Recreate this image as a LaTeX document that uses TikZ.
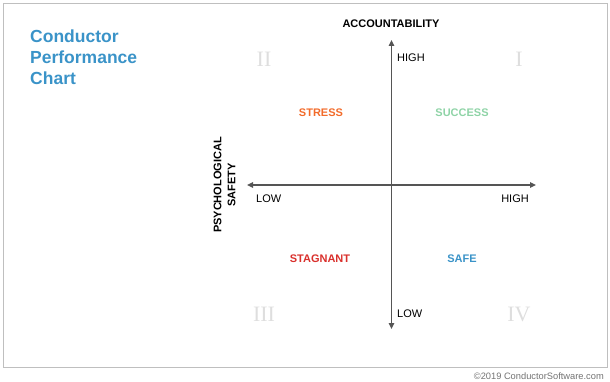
\documentclass[tikz,border=0pt]{standalone}
\usepackage{fontspec}
\setmainfont{Liberation Sans}
\newfontfamily\numfont{Liberation Serif}
\usetikzlibrary{arrows.meta,positioning}
\definecolor{condblue}{HTML}{3A93C8}
\definecolor{stressorange}{HTML}{F26B2A}
\definecolor{successgreen}{HTML}{8ED3A6}
\definecolor{stagnantred}{HTML}{D9302C}
\definecolor{axisgray}{HTML}{555555}

\begin{document}
\begin{tikzpicture}[x=1pt,y=-1pt,font=\fontsize{11}{13}\selectfont,
  axislab/.style={inner sep=0pt,font=\fontsize{11}{14}\selectfont\bfseries},
  tick/.style={inner sep=0pt,font=\fontsize{11}{13}\selectfont},
  zone/.style={inner sep=0pt,anchor=base,font=\fontsize{11}{13}\selectfont\bfseries},
  quad/.style={inner sep=0pt,anchor=base,text=black!13,font=\fontsize{22}{24}\numfont},
  arr/.style={{Triangle[length=6pt,width=5.5pt]}-{Triangle[length=6pt,width=5.5pt]},axisgray,line width=1.5pt}]
 \useasboundingbox (0,0) rectangle (610,382);
 % ---- frame ----
 \draw[black!25,line width=0.9pt] (3,3) rectangle (607,367);
 \node[anchor=base west,inner sep=0pt,align=left,text=condblue,
   font=\fontsize{17.5}{21}\selectfont\bfseries] (title) at (30,85)
   {Conductor\\Performance\\Chart};
 \node[anchor=base east,inner sep=0pt,text=black!55,font=\fontsize{9.3}{11}\selectfont] (copy) at (604,379)
   {\textcopyright2019 ConductorSoftware.com};
 % ---- axes ----
 \coordinate (top) at (391.5,40);
 \coordinate (bot) at (391.5,329);
 \coordinate (left) at (247,185);
 \coordinate (right) at (536,185);
 \draw[arr] (bot) -- (top);
 \draw[arr] (left) -- (right);
 \node[axislab,anchor=base] (acc) at (391,28) {ACCOUNTABILITY};
 \node[axislab,rotate=90,align=center] (psy) at (224.5,185) {PSYCHOLOGICAL\\SAFETY};
 \node[tick,anchor=base west] (vhigh) at (397,62) {HIGH};
 \node[tick,anchor=base west] (vlow) at (397,317) {LOW};
 \node[tick,anchor=base west] (hlow) at (256,203) {LOW};
 \node[tick,anchor=base east] (hhigh) at (529,203) {HIGH};
 % ---- quadrants ----
 \node[zone,text=stressorange] (stress) at (321,117) {STRESS};
 \node[zone,text=successgreen] (success) at (462,117) {SUCCESS};
 \node[zone,text=stagnantred] (stagnant) at (320,262) {STAGNANT};
 \node[zone,text=condblue] (safe) at (462,262) {SAFE};
 \node[quad] (q2) at (264,67) {II};
 \node[quad] (q1) at (519,67) {I};
 \node[quad] (q3) at (264,321) {III};
 \node[quad] (q4) at (519,321) {IV};
\end{tikzpicture}
\end{document}
